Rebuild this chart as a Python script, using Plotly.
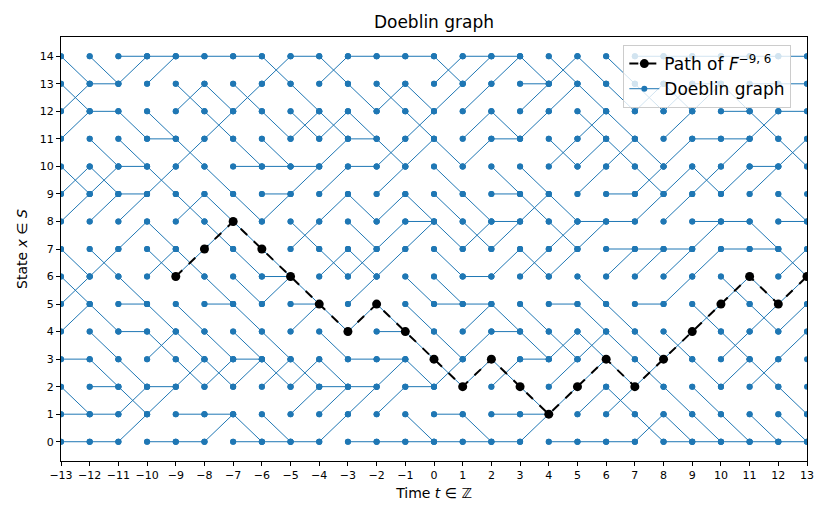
import plotly.graph_objects as go

# time axis and state space of the chain
times = list(range(-13, 14))
states = list(range(15))

# step taken from state x at time t (one row per t = -13 .. 12, columns x = 0 .. 14)
moves = [
    [0, 0, -1, 0, 1, 1, -1, -1, 1, 1, -1, 1, 1, -1, -1],      # -13
    [0, 0, 0, -1, -1, -1, 1, -1, 1, 1, -1, -1, 0, 0, -1],     # -12
    [1, 1, -1, -1, 0, 0, -1, 1, 1, 0, 0, -1, -1, 1, 0],       # -11
    [0, 1, 0, 1, -1, -1, 1, -1, -1, 1, -1, 0, -1, 1, 0],      # -10
    [0, 0, 1, -1, -1, -1, 1, -1, 1, -1, 1, -1, 1, -1, 0],     # -9
    [1, 0, 1, -1, -1, 0, -1, 1, -1, -1, -1, 1, -1, -1, 0],    # -8
    [0, -1, 1, 0, -1, -1, -1, -1, -1, -1, 0, -1, 1, -1, 0],   # -7
    [0, -1, 1, -1, -1, 1, 0, -1, 1, 0, 0, -1, -1, 1, -1],     # -6
    [0, 1, 1, -1, 1, 0, -1, 1, -1, 1, 0, 1, -1, -1, 0],       # -5
    [1, 1, 0, -1, -1, -1, 1, -1, 1, 1, 1, 1, -1, 1, -1],      # -4
    [0, 1, 0, 0, 1, 1, 1, -1, -1, -1, 0, 0, -1, -1, 0],       # -3
    [0, 1, 1, 0, 0, -1, 1, 1, 1, 1, 1, -1, 1, -1, 0],         # -2
    [0, -1, 0, -1, -1, -1, -1, 1, 0, -1, 1, 1, -1, -1, 0],    # -1
    [0, 0, 1, -1, -1, 0, -1, -1, -1, -1, -1, -1, 1, 1, -1],   # 0
    [0, -1, 1, 1, 1, 0, 0, 1, -1, -1, 1, 1, 1, 1, 0],         # 1
    [0, 0, 1, -1, 0, -1, 1, 1, 0, 0, -1, 0, -1, 1, 0],        # 2
    [1, 0, -1, 0, -1, -1, 1, -1, 1, -1, -1, 1, 1, 0, -1],     # 3
    [0, 1, 1, 1, -1, 0, 1, 1, -1, -1, 1, -1, 1, 1, -1],       # 4
    [0, 1, 1, 1, -1, -1, -1, 1, 0, 1, 1, 1, -1, -1, -1],      # 5
    [0, 1, -1, -1, -1, -1, 1, 0, 0, 0, 1, -1, -1, -1, -1],    # 6
    [1, -1, 1, -1, -1, 0, 1, 0, 1, 1, -1, -1, 1, -1, 0],      # 7
    [0, -1, -1, 1, -1, 1, 1, 0, 1, 1, 1, 1, 1, -1, 0],        # 8
    [0, -1, -1, -1, 1, -1, 1, 1, 0, 1, -1, 0, 1, 0, 0],       # 9
    [0, -1, 1, 1, -1, 1, -1, 0, 0, 1, 1, 0, 0, -1, 0],        # 10
    [0, -1, 1, -1, 1, -1, -1, 0, -1, 1, 0, 1, -1, 0, 0],      # 11
    [0, -1, -1, 1, 1, 1, 1, -1, 0, -1, 1, -1, 0, 0, 0],       # 12
]

# highlighted path started at time -9 in state 6
path_t = list(range(-9, 14))
path_x = [6, 7, 8, 7, 6, 5, 4, 5, 4, 3, 2, 3, 2, 1, 2, 3, 2, 3, 4, 5, 6, 5, 6]

blue = '#1f77b4'
font = 'DejaVu Sans'

edge_t, edge_x = [], []
for i, t in enumerate(times[:-1]):
    for x in states:
        edge_t += [t, t + 1, None]
        edge_x += [x, x + moves[i][x], None]

node_t = [t for t in times for x in states]
node_x = [x for t in times for x in states]

fig = go.Figure()

fig.add_trace(go.Scatter(x=edge_t, y=edge_x, mode='lines+markers',
                         line=dict(color=blue, width=1),
                         marker=dict(color=blue, size=6),
                         name='Doeblin graph'))
fig.add_trace(go.Scatter(x=node_t, y=node_x, mode='markers',
                         marker=dict(color=blue, size=6),
                         showlegend=False, hoverinfo='skip'))
fig.add_trace(go.Scatter(x=path_t, y=path_x, mode='lines+markers',
                         line=dict(color='black', width=2, dash='dash'),
                         marker=dict(color='black', size=9),
                         name='Path of <i>F</i><sup>\u22129, 6</sup>'))

# the page body adds an 8px offset, so the figure is 8px smaller than the window
fig.update_layout(
    width=822, height=511,
    margin=dict(l=53, r=23, t=29, b=58),
    plot_bgcolor='white', paper_bgcolor='white',
    font=dict(family=font, size=11, color='black'),
    title=dict(text='Doeblin graph', x=0.5, xref='paper', y=1 - 14 / 511,
               yref='container', yanchor='middle',
               font=dict(family=font, size=17, color='black')),
    legend=dict(x=0.979, y=0.981, xanchor='right', yanchor='top',
                traceorder='reversed', tracegroupgap=0,
                bgcolor='rgba(255,255,255,0.8)', bordercolor='#cccccc',
                borderwidth=1, font=dict(family=font, size=17)),
    showlegend=True,
)

fig.update_xaxes(range=[-13, 13], tickmode='array', tickvals=times,
                 ticktext=[str(t).replace('-', '\u2212') for t in times],
                 showgrid=False, zeroline=False, showline=True, mirror=True,
                 linecolor='black', linewidth=1, ticks='outside', ticklen=4,
                 tickcolor='black', tickfont=dict(size=11),
                 title=dict(text='Time <i>t</i> \u2208 \u2124', standoff=6,
                            font=dict(size=14)))
fig.update_yaxes(range=[-0.7, 14.7], tickmode='array', tickvals=states,
                 showgrid=False, zeroline=False, showline=True, mirror=True,
                 linecolor='black', linewidth=1, ticks='outside', ticklen=4,
                 tickcolor='black', tickfont=dict(size=11),
                 title=dict(text='State <i>x</i> \u2208 <i>S</i>', standoff=8,
                            font=dict(size=14)))

fig.write_html('out.html')
